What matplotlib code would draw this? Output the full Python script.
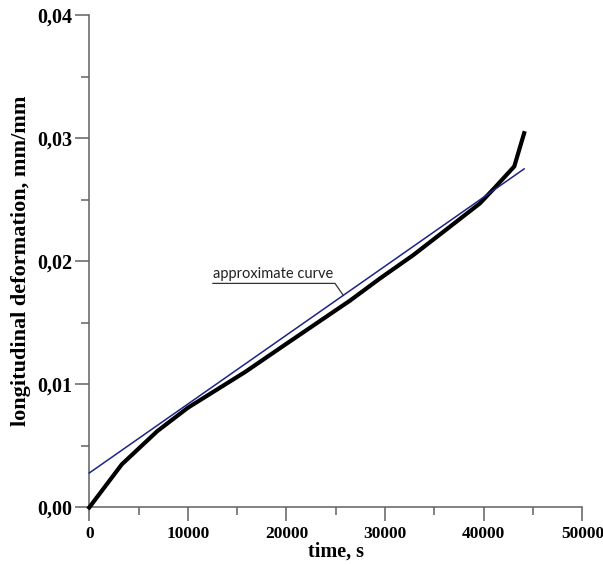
import matplotlib
matplotlib.use("Agg")
import matplotlib.pyplot as plt
from matplotlib.ticker import MultipleLocator, FuncFormatter

# Data
time_s = [0, 3300, 6900, 10000, 15800, 20000, 26440, 29480, 32860, 36250, 39620, 41150, 43100, 44100]
deformation = [0.0, 0.0035, 0.0062, 0.0081, 0.0110, 0.0133, 0.0168, 0.0186, 0.0205, 0.0226, 0.0247, 0.0260, 0.0277, 0.0304]

approx_time = [0, 44100]
approx_def = [0.0028, 0.0275]

annot_text = "approximate curve"
annot_text_x, annot_y = 12540, 0.0182
annot_knee_x = 24920
annot_tip = (25760, 0.01723)

x_ticks = [0, 10000, 20000, 30000, 40000, 50000]
y_ticks = [0.00, 0.01, 0.02, 0.03, 0.04]

fig = plt.figure(figsize=(6.03, 5.65), dpi=100)
ax = fig.add_axes([0.148, 0.1018, 0.8177, 0.8717])

ax.plot(time_s, deformation, color="black", lw=3.0, solid_joinstyle="miter",
        clip_on=False, zorder=3)
ax.plot(approx_time, approx_def, color="#1c2488", lw=1.1, clip_on=False, zorder=4)

# annotation leader
ax.plot([annot_text_x, annot_knee_x, annot_tip[0]], [annot_y, annot_y, annot_tip[1]],
        color="#333333", lw=0.9, zorder=2)
ax.text(annot_text_x, annot_y + 0.0002, annot_text, fontsize=10.5, family="Lato",
        color="#222222", ha="left", va="bottom")

ax.set_xlim(0, 50000)
ax.set_ylim(0, 0.04)
ax.set_xticks(x_ticks)
ax.set_yticks(y_ticks)
ax.xaxis.set_minor_locator(MultipleLocator(5000))
ax.yaxis.set_minor_locator(MultipleLocator(0.005))
ax.yaxis.set_major_formatter(FuncFormatter(lambda v, p: f"{v:.2f}".replace(".", ",")))
ax.xaxis.set_major_formatter(FuncFormatter(lambda v, p: f"{int(round(v))}"))

for s in ["top", "right"]:
    ax.spines[s].set_visible(False)
for s in ["left", "bottom"]:
    ax.spines[s].set_color("#606060")
    ax.spines[s].set_linewidth(1.1)

ax.tick_params(which="major", direction="out", length=10, width=1.1, color="#606060", pad=3)
ax.tick_params(which="minor", direction="out", length=5.5, width=1.1, color="#606060")
ax.tick_params(axis="x", labelsize=12.5)
ax.tick_params(axis="y", labelsize=14.5, pad=2)
for lab in ax.get_xticklabels() + ax.get_yticklabels():
    lab.set_family("Liberation Serif")
    lab.set_fontweight("bold")

ax.set_xlabel("time, s", family="Liberation Serif", fontweight="bold", fontsize=14.5, labelpad=0)
ax.set_ylabel("longitudinal deformation, mm/mm", family="Liberation Serif",
              fontweight="bold", fontsize=16, labelpad=5)

fig.savefig("out.png", dpi=100)
